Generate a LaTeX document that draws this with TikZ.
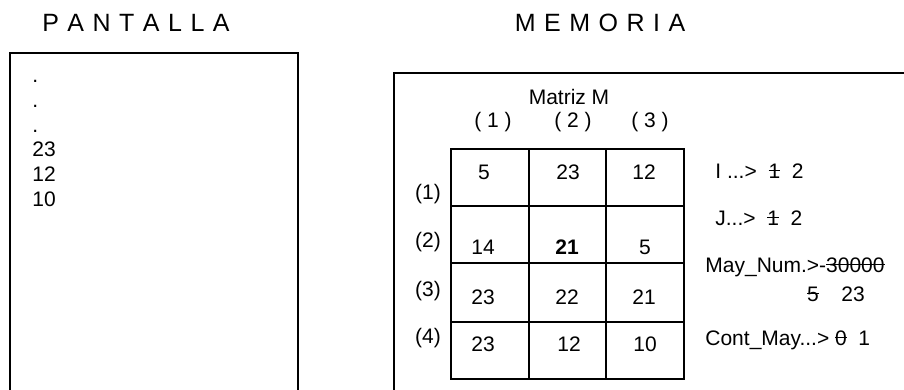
\documentclass[tikz,border=0pt]{standalone}
\usepackage{fontspec}
\setmainfont{Liberation Sans}
\usetikzlibrary{positioning}
\newcommand{\tachado}[1]{\setbox0\hbox{#1}\rlap{\rule[0.33em]{\wd0}{0.07em}}\box0}

\begin{document}
\begin{tikzpicture}[x=0.5pt,y=-0.5pt,font=\fontsize{10.5}{12.6}\selectfont,
  titulo/.style={font={\fontsize{12.5}{15}\selectfont\spaceskip=0.34em\relax}},
  caja/.style={line width=0.9pt},
  izq/.style={anchor=west,inner sep=0pt}]
  \useasboundingbox (0,0) rectangle (904,390);
  \node[titulo] (tpant) at (136,23) {P A N T A L L A};
  \node[titulo] (tmem) at (600,23) {M E M O R I A};
  \draw[caja] (10,390) -- (10,53) -- (298,53) -- (298,390);
  \draw[caja] (394,390) -- (394,73) -- (904,73);
  \foreach \t [count=\k] in {.,.,.,23,12,10}
    \node[inner sep=0pt,anchor=base west] (p\k) at (32,58.4+24.6*\k) {\t};
  \node (matriz) at (569,97) {Matriz M};
  \node (c1) at (493,122) {( 1 )};
  \node (c2) at (573,122) {( 2 )};
  \node (c3) at (650,122) {( 3 )};
  \node (f1) at (428,194) {(1)};
  \node (f2) at (428,242) {(2)};
  \node (f3) at (428,291) {(3)};
  \node (f4) at (428,338) {(4)};
  \draw[caja] (451,149) rectangle (684,379);
  \draw[caja] (529,149) -- (529,379) (606,149) -- (606,379);
  \draw[caja] (451,206) -- (684,206) (451,263) -- (684,263) (451,322) -- (684,322);
  \node (m11) at (484,172) {5};
  \node (m12) at (568,172) {23};
  \node (m13) at (644,172) {12};
  \node (m21) at (483,247) {14};
  \node (m22) at (567,247) {\textbf{21}};
  \node (m23) at (645,247) {5};
  \node (m31) at (483,297) {23};
  \node (m32) at (567,297) {22};
  \node (m33) at (644,297) {21};
  \node (m41) at (483,344) {23};
  \node (m42) at (569,344) {12};
  \node (m43) at (645,344) {10};
  \node[izq] (vi) at (715,171) {I ...>\ \ \tachado{1}\ \ 2};
  \node[izq] (vj) at (715,218) {J...>\ \ \tachado{1}\ \ 2};
  \node[izq] (vmay) at (705,267) {May\_Num.>-\tachado{30000}};
  \node (vmay5) at (813,294) {\tachado{5}};
  \node (vmay23) at (853,294) {23};
  \node[izq] (vcont) at (705,340) {Cont\_May...> \tachado{0}\ \ 1};
\end{tikzpicture}
\end{document}
